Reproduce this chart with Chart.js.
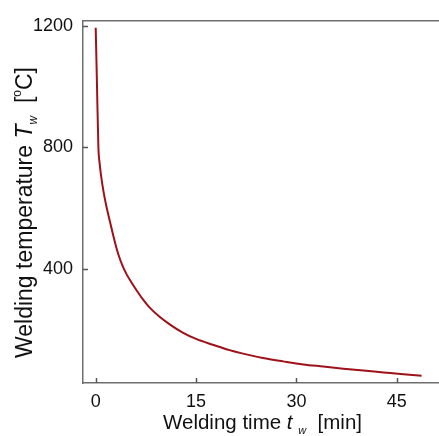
<!DOCTYPE html>
<html>
<head>
<meta charset="utf-8">
<script src="https://cdn.jsdelivr.net/npm/chart.js@4.4.1/dist/chart.umd.min.js"></script>
<style>
  html, body { margin: 0; padding: 0; background: #fff; }
  #c { display: block; }
</style>
</head>
<body>
<canvas id="c" width="439" height="436"></canvas>
<script>
"use strict";

// welding time [min] and temperature [°C]
const timeMin = [0, 0.2, 0.4, 0.6, 0.8, 1.2, 1.6, 2.0, 2.4, 2.9, 3.4, 4.0, 4.6, 5.3, 6.0, 7.0, 8.0, 9.5, 11, 13, 15, 17.5, 20, 22.5, 25, 28, 31, 34, 37, 40, 43, 46, 48.7];
const tempC = [1195, 995, 800, 745, 707, 650, 605, 567, 530, 485, 446, 410, 382, 356, 332, 300, 273, 242, 217, 189, 168, 149, 131, 117, 105, 94, 84, 77, 70, 63.5, 57.5, 51.5, 46.5];

const xTicks = [0, 15, 30, 45];
const yTicks = [400, 800, 1200];

const FONT = "'Liberation Sans', Arial, Helvetica, sans-serif";
const AXIS_COLOR = "#6e6e6e";

// runs of text: [text, size, italic, baseline shift]
const yTitle = [
  ["Welding temperature ", 23, false, 0],
  ["T", 23, true, 0],
  ["w", 12, true, 5],
  ["  [", 23, false, 0],
  ["o", 12, false, -11],
  ["C]", 23, false, 0],
];
const xTitle = [
  ["Welding time ", 20.5, false, 0],
  ["t", 20.5, true, 0],
  [" ", 20.5, false, 0],
  ["w", 11, true, 5],
  ["  [min]", 20.5, false, 0],
];

function drawRuns(ctx, runs, cx, baseY) {
  const fontOf = (r) => `${r[2] ? "italic " : ""}${r[1]}px ${FONT}`;
  let total = 0;
  for (const r of runs) {
    ctx.font = fontOf(r);
    total += ctx.measureText(r[0]).width;
  }
  let x = cx - total / 2;
  ctx.textAlign = "left";
  ctx.textBaseline = "alphabetic";
  for (const r of runs) {
    ctx.font = fontOf(r);
    ctx.fillText(r[0], x, baseY + r[3]);
    x += ctx.measureText(r[0]).width;
  }
}

const decor = {
  id: "decor",
  afterDraw(chart) {
    const { ctx, chartArea: a, scales } = chart;
    ctx.save();
    // top frame line
    ctx.strokeStyle = AXIS_COLOR;
    ctx.lineWidth = 1.5;
    ctx.beginPath();
    ctx.moveTo(a.left, a.top);
    ctx.lineTo(a.right, a.top);
    ctx.stroke();
    // inward ticks
    ctx.strokeStyle = "#555";
    ctx.beginPath();
    for (const v of xTicks) {
      const px = Math.round(scales.x.getPixelForValue(v)) + 0.5;
      ctx.moveTo(px, a.bottom);
      ctx.lineTo(px, a.bottom - 5);
    }
    for (const v of yTicks) {
      const py = Math.round(scales.y.getPixelForValue(v)) + 0.5;
      ctx.moveTo(a.left, py);
      ctx.lineTo(a.left + 5, py);
    }
    ctx.stroke();
    // axis titles
    ctx.fillStyle = "#111";
    drawRuns(ctx, xTitle, 262.5, 428.5);
    ctx.translate(32, 212.5);
    ctx.rotate(-Math.PI / 2);
    drawRuns(ctx, yTitle, 0, 0);
    ctx.restore();
  },
};

new Chart(document.getElementById("c"), {
  type: "line",
  data: {
    datasets: [{
      data: timeMin.map((t, i) => ({ x: t, y: tempC[i] })),
      borderColor: "#9e1119",
      borderWidth: 2,
      pointRadius: 0,
      cubicInterpolationMode: "monotone",
      fill: false,
    }],
  },
  options: {
    responsive: false,
    devicePixelRatio: 1,
    animation: false,
    layout: { padding: { top: 16.5, right: 0, bottom: 0, left: 0 } },
    plugins: { legend: { display: false }, tooltip: { enabled: false } },
    scales: {
      x: {
        type: "linear",
        min: -1.9,
        max: 51.3,
        afterBuildTicks: (s) => { s.ticks = xTicks.map((v) => ({ value: v })); },
        afterFit: (s) => { s.height = 53; },
        grid: { display: false, drawTicks: false },
        border: { display: true, color: AXIS_COLOR, width: 1.5 },
        ticks: {
          color: "#111", padding: 8, maxRotation: 0,
          font: { family: FONT, size: 18 },
          callback: (v) => String(v),
        },
      },
      y: {
        min: 22.6,
        max: 1218,
        afterBuildTicks: (s) => { s.ticks = yTicks.map((v) => ({ value: v })); },
        afterFit: (s) => { s.width = 83; },
        grid: { display: false, drawTicks: false },
        border: { display: true, color: AXIS_COLOR, width: 1.5 },
        ticks: {
          color: "#111", padding: 10,
          font: { family: FONT, size: 18 },
          callback: (v) => String(v),
        },
      },
    },
  },
  plugins: [decor],
});
</script>
</body>
</html>
